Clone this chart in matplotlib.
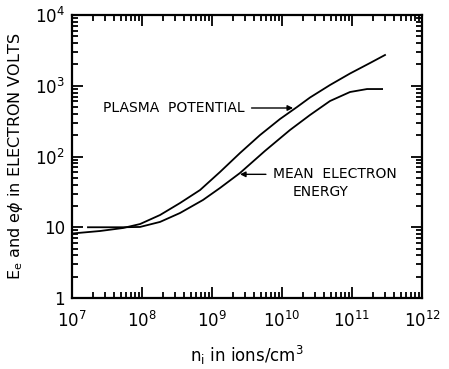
import numpy as np
import matplotlib
matplotlib.use('Agg')
import matplotlib.pyplot as plt
from matplotlib.ticker import LogLocator, NullFormatter

# ion density (ions/cm^3) and energies (eV)
pp_density = [1e7, 2.51e7, 5.36e7, 9.36e7, 1.81e8, 3.49e8, 6.75e8, 1.30e9, 2.51e9, 4.85e9,
              9.36e9, 1.64e10, 2.51e10, 4.85e10, 9.36e10, 1.81e11, 2.96e11]
pp_energy = [8.16, 8.85, 9.76, 11.1, 14.9, 22.0, 33.6, 60.4, 112, 201,
             339, 501, 682, 1025, 1490, 2098, 2722]

mee_density = [1.69e7, 5.36e7, 9.36e7, 1.81e8, 3.49e8, 7.43e8, 1.30e9, 2.51e9, 5.71e9,
               1.30e10, 2.51e10, 4.85e10, 9.36e10, 1.64e11, 2.69e11]
mee_energy = [10.0, 10.0, 10.1, 11.9, 15.9, 24.3, 35.9, 58.5, 120,
              237, 386, 609, 816, 899, 899]

xticks = [1e7, 1e8, 1e9, 1e10, 1e11, 1e12]
xlabels = [r'$10^{7}$', r'$10^{8}$', r'$10^{9}$', r'$10^{10}$', r'$10^{11}$', r'$10^{12}$']
yticks = [1, 10, 100, 1000, 10000]
ylabels = ['1', '10', r'$10^{2}$', r'$10^{3}$', r'$10^{4}$']

fig = plt.figure(figsize=(4.49, 3.69), dpi=100)
ax = fig.add_axes([0.1604, 0.1924, 0.7795, 0.7669])

ax.plot(pp_density, pp_energy, color='black', lw=1.3)
ax.plot(mee_density, mee_energy, color='black', lw=1.3)

ax.set_xscale('log')
ax.set_yscale('log')
ax.set_xlim(1e7, 1e12)
ax.set_ylim(1, 1e4)

ax.set_xticks(xticks)
ax.set_xticklabels(xlabels, fontsize=12)
ax.set_yticks(yticks)
ax.set_yticklabels(ylabels, fontsize=12)
ax.xaxis.set_minor_locator(LogLocator(base=10, subs=np.arange(2, 10)))
ax.yaxis.set_minor_locator(LogLocator(base=10, subs=np.arange(2, 10)))
ax.xaxis.set_minor_formatter(NullFormatter())
ax.yaxis.set_minor_formatter(NullFormatter())
ax.tick_params(which='both', direction='in', top=True, right=True, width=1.3)
ax.tick_params(which='major', length=8)
ax.tick_params(axis='x', which='major', pad=9)
ax.tick_params(axis='y', which='major', pad=5)
ax.tick_params(which='minor', length=4)
for s in ax.spines.values():
    s.set_linewidth(1.6)

ax.annotate('PLASMA  POTENTIAL', xy=(1.44e10, 485), xytext=(2.77e7, 485),
            fontsize=10, va='center', ha='left',
            arrowprops=dict(arrowstyle='-|>', color='black', lw=1.0, mutation_scale=8,
                            shrinkA=3, shrinkB=0))
ax.annotate('MEAN  ELECTRON', xy=(2.51e9, 56), xytext=(7.4e9, 56),
            fontsize=10, va='center', ha='left',
            arrowprops=dict(arrowstyle='-|>', color='black', lw=1.0, mutation_scale=8,
                            shrinkA=3, shrinkB=0))
ax.text(3.6e10, 31.5, 'ENERGY', fontsize=10, va='center', ha='center')

fig.text(0.035, 0.577, r'$\mathregular{E_e}$ and e$\phi$ in ELECTRON VOLTS', rotation=90,
         fontsize=11.5, va='center', ha='center')
fig.text(0.55, 0.038, r'$\mathregular{n_i}$ in ions/cm$^3$', fontsize=12, va='center', ha='center')

fig.savefig('out.png', dpi=100)
